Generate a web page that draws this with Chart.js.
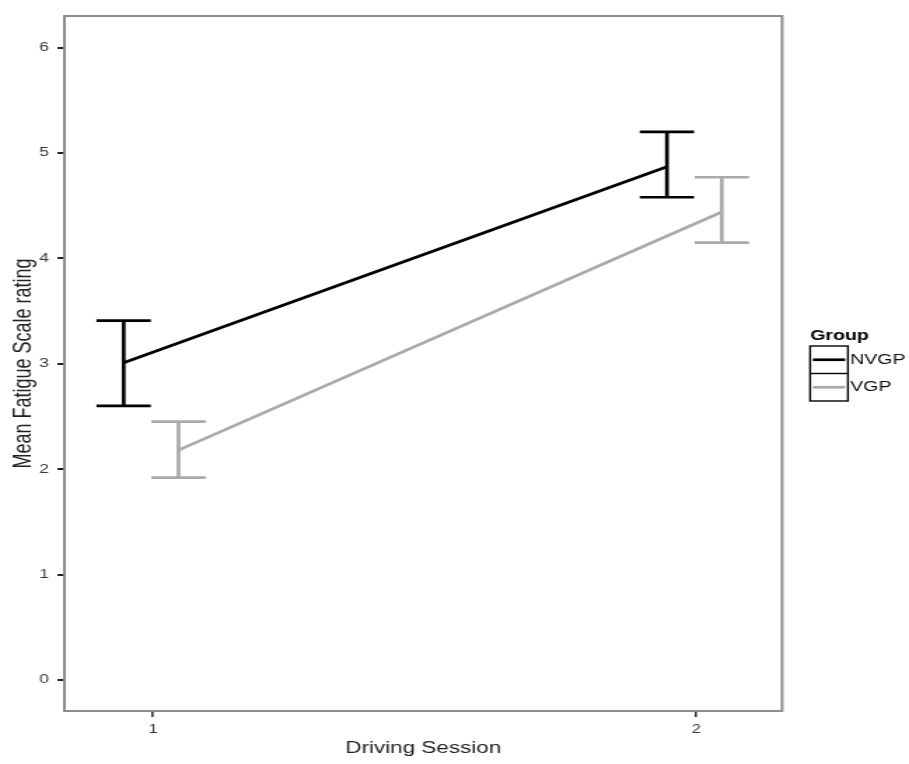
<!DOCTYPE html>
<html>
<head>
<meta charset="utf-8">
<script src="https://cdn.jsdelivr.net/npm/chart.js@4/dist/chart.umd.min.js"></script>
<style>
    html, body { margin: 0; padding: 0; background: #fff; overflow: hidden; }
    /* 원본 그림은 가로로 늘어나 있음: 좁게 그린 뒤 가로로 늘림 */
    #wrap { width: 649px; height: 764px; transform: scaleX(1.4006); transform-origin: 0 0; }
</style>
</head>
<body>
<div id="wrap"><canvas id="chart"></canvas></div>
<script>
const
    sessions = [1, 2],
    groups = ['NVGP', 'VGP'],
    groupColors = ['#000000', '#aaaaaa'],
    dodge = [-0.054, 0.047],
    meanNVGP = [3.01, 4.87],
    upperNVGP = [3.41, 5.20],
    lowerNVGP = [2.60, 4.58],
    meanVGP = [2.18, 4.44],
    upperVGP = [2.45, 4.77],
    lowerVGP = [1.92, 4.15],
    yTicks = [0, 1, 2, 3, 4, 5, 6],
    xTicks = [1, 2];

const means = [meanNVGP, meanVGP],
    uppers = [upperNVGP, upperVGP],
    lowers = [lowerNVGP, lowerVGP];

const FONT = '"Liberation Sans", Arial, sans-serif';

// 오차 막대 + 패널 테두리
const errorBars = {
    id: 'errorBars',
    afterDatasetsDraw(chart) {
        const { ctx, scales: { x, y } } = chart;
        ctx.save();
        ctx.lineWidth = 2.7;
        groups.forEach((g, gi) => {
            ctx.strokeStyle = groupColors[gi];
            sessions.forEach((s, si) => {
                const px = x.getPixelForValue(s + dodge[gi]);
                const half = x.getPixelForValue(s + 0.05) - x.getPixelForValue(s);
                const top = y.getPixelForValue(uppers[gi][si]);
                const bot = y.getPixelForValue(lowers[gi][si]);
                ctx.beginPath();
                ctx.moveTo(px, top); ctx.lineTo(px, bot);
                ctx.moveTo(px - half, top); ctx.lineTo(px + half, top);
                ctx.moveTo(px - half, bot); ctx.lineTo(px + half, bot);
                ctx.stroke();
            });
        });
        const a = chart.chartArea;
        ctx.strokeStyle = '#8c8c8c';
        ctx.lineWidth = 2;
        ctx.strokeRect(a.left, a.top, a.right - a.left, a.bottom - a.top);
        ctx.restore();
    }
};

// 상자형 범례
const boxLegend = {
    id: 'boxLegend',
    afterDraw(chart) {
        const { ctx } = chart;
        const lx = chart.chartArea.right + 20, ly = 346, w = 27, h = 27.5;
        ctx.save();
        ctx.fillStyle = '#000';
        ctx.font = 'bold 14px ' + FONT;
        ctx.textBaseline = 'alphabetic';
        ctx.fillText('Group', lx, 340);
        ctx.strokeStyle = '#000';
        ctx.lineWidth = 1.4;
        ctx.strokeRect(lx, ly, w, h * 2);
        ctx.beginPath();
        ctx.moveTo(lx, ly + h); ctx.lineTo(lx + w, ly + h);
        ctx.stroke();
        groups.forEach((g, i) => {
            const cy = ly + h * i + h / 2;
            ctx.strokeStyle = groupColors[i];
            ctx.lineWidth = 2.7;
            ctx.beginPath();
            ctx.moveTo(lx + 2, cy); ctx.lineTo(lx + w - 2, cy);
            ctx.stroke();
            ctx.fillStyle = '#111';
            ctx.font = '14px ' + FONT;
            ctx.textBaseline = 'middle';
            ctx.fillText(g, lx + w + 1.5, cy);
        });
        ctx.restore();
    }
};

new Chart(document.getElementById('chart'), {
    type: 'line',
    data: {
        datasets: groups.map((g, gi) => ({
            label: g,
            data: sessions.map((s, si) => ({ x: s + dodge[gi], y: means[gi][si] })),
            borderColor: groupColors[gi],
            borderWidth: 2.7,
            pointRadius: 0,
            fill: false,
            tension: 0,
        })),
    },
    options: {
        responsive: true,
        maintainAspectRatio: false,
        animation: false,
        layout: { padding: { left: 0, top: 16, right: 90.6, bottom: 0 } },
        plugins: {
            legend: { display: false },
            tooltip: { enabled: false },
        },
        scales: {
            x: {
                type: 'linear',
                min: 0.837,
                max: 2.158,
                afterBuildTicks: axis => { axis.ticks = xTicks.map(v => ({ value: v })); },
                afterFit: axis => { axis.height = 53; },
                grid: { drawOnChartArea: false, drawTicks: true, tickLength: 6, color: '#333', lineWidth: 1.6 },
                border: { display: false },
                ticks: { color: '#3a3a3a', font: { family: FONT, size: 12 }, padding: 5 },
                title: { display: true, text: 'Driving Session', color: '#222', font: { family: FONT, size: 16 }, padding: { top: 2, bottom: 6 } },
            },
            y: {
                type: 'linear',
                min: -0.295,
                max: 6.3,
                afterBuildTicks: axis => { axis.ticks = yTicks.map(v => ({ value: v })); },
                afterFit: axis => { axis.width = 46; },
                grid: { drawOnChartArea: false, drawTicks: true, tickLength: 5, color: '#222', lineWidth: 2 },
                border: { display: false },
                ticks: { color: '#3a3a3a', font: { family: FONT, size: 12.5 }, padding: 6 },
                title: { display: true, text: 'Mean Fatigue Scale rating', color: '#222', font: { family: FONT, size: 18 }, padding: { top: 6, bottom: 0 } },
            },
        },
    },
    plugins: [errorBars, boxLegend],
});
</script>
</body>
</html>
